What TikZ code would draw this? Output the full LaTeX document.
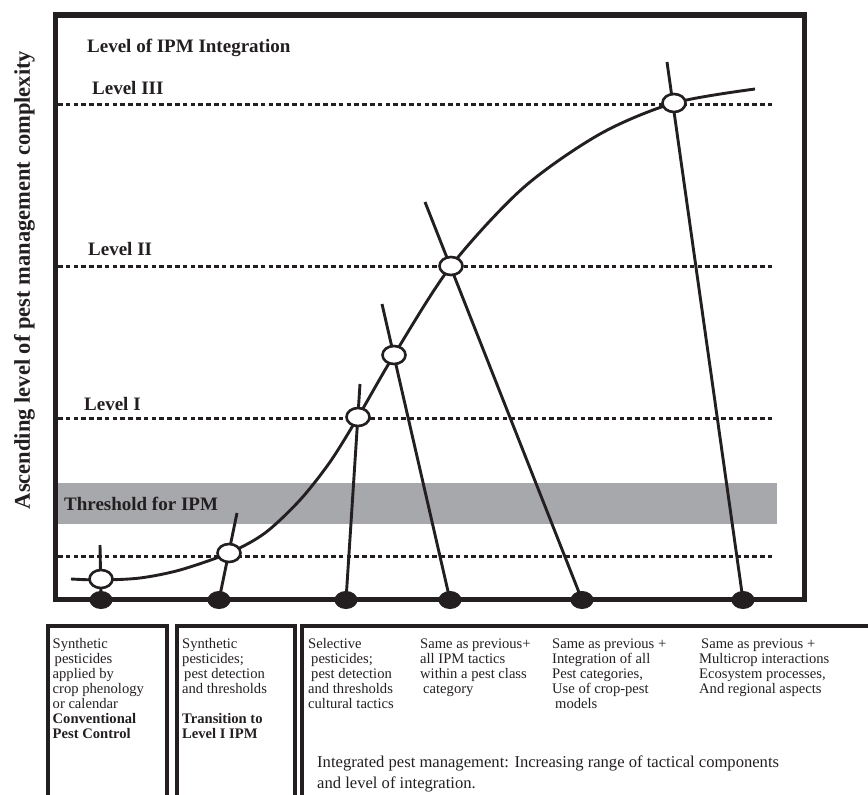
\documentclass[tikz,border=0pt]{standalone}
\usepackage{fontspec}
\setmainfont{Liberation Serif}
\usetikzlibrary{shapes.geometric}
\definecolor{ink}{HTML}{231F20}
\definecolor{band}{HTML}{A7A8AB}
\pgfdeclarelayer{bg}
\pgfsetlayers{bg,main}
\begin{document}
\begin{tikzpicture}[x=1pt,y=-1pt,
  every node/.style={inner sep=0pt, text=ink},
  frame/.style={draw=ink, line width=5.5pt},
  levelline/.style={draw=ink, line width=3pt, dash pattern=on 4.5pt off 3.3pt},
  stem/.style={draw=ink, line width=2.9pt},
  curveline/.style={draw=ink, line width=2.9pt},
  opendot/.style={ellipse, draw=ink, fill=white, line width=2.6pt, minimum width=23pt, minimum height=18pt},
  filldot/.style={ellipse, fill=ink, minimum width=23pt, minimum height=18pt},
  lvl/.style={font=\fontsize{19}{21}\selectfont\bfseries, anchor=base west},
  boxline/.style={draw=ink, line width=4pt},
  cell/.style={font=\fontsize{14.6}{15}\selectfont, anchor=base west},
]
\useasboundingbox (0,0) rectangle (868,795);

% positions
\coordinate (d1) at (101,600); \coordinate (c1p) at (101,579); \coordinate (top1) at (100,545);
\coordinate (d2) at (219,600); \coordinate (c2p) at (229,553); \coordinate (top2) at (237,513);
\coordinate (d3) at (346,600); \coordinate (c3p) at (358,417); \coordinate (top3) at (360,384);
\coordinate (d4) at (450,600); \coordinate (c4p) at (394,355); \coordinate (top4) at (382,304);
\coordinate (d5) at (582,600); \coordinate (c5p) at (451,266); \coordinate (top5) at (425,202);
\coordinate (d6) at (743,600); \coordinate (c6p) at (674,103); \coordinate (top6) at (667,62);

\coordinate (l3a) at (58,104); \coordinate (l3b) at (772,104);
\coordinate (l2a) at (58,266); \coordinate (l2b) at (772,266);
\coordinate (l1a) at (58,418); \coordinate (l1b) at (772,418);
\coordinate (l0a) at (58,556); \coordinate (l0b) at (772,556);

% nodes
\node[filldot] (dot1) at (d1) {};
\node[filldot] (dot2) at (d2) {};
\node[filldot] (dot3) at (d3) {};
\node[filldot] (dot4) at (d4) {};
\node[filldot] (dot5) at (d5) {};
\node[filldot] (dot6) at (d6) {};
\node[opendot] (c1) at (c1p) {};
\node[opendot] (c2) at (c2p) {};
\node[opendot] (c3) at (c3p) {};
\node[opendot] (c4) at (c4p) {};
\node[opendot] (c5) at (c5p) {};
\node[opendot] (c6) at (c6p) {};

\begin{pgfonlayer}{bg}
  \fill[band] (58,483) rectangle (777,524);
  \draw[levelline] (l3a) -- (l3b);
  \draw[levelline] (l2a) -- (l2b);
  \draw[levelline] (l1a) -- (l1b);
  \draw[levelline] (l0a) -- (l0b);
  \draw[frame] (55.5,15) rectangle (804.5,599.5);
  \draw[stem] (dot1.center) -- (top1);
  \draw[stem] (dot2.center) -- (top2);
  \draw[stem] (dot3.center) -- (top3);
  \draw[stem] (dot4.center) -- (top4);
  \draw[stem] (dot5.center) -- (top5);
  \draw[stem] (dot6.center) -- (top6);
  \draw[curveline] plot[smooth, tension=0.5] coordinates {(71,579) (101,580) (140,578) (180,570) (229,553) (265,533) (300,500) (330,462) (358,417) (394,355) (451,266) (523,188) (600,134) (674,103) (755,89)};
\end{pgfonlayer}

% labels
\node[lvl] (title) at (87,52) {Level of IPM Integration};
\node[lvl] (lev3) at (92,94) {Level III};
\node[lvl] (lev2) at (88,255) {Level II};
\node[lvl] (lev1) at (84,410) {Level I};
\node[lvl] (thr) at (64,510) {Threshold for IPM};
\node[rotate=90, anchor=base, font=\fontsize{22.5}{24}\selectfont\bfseries] (ylab) at (30,280) {Ascending level of pest management complexity};

% bottom boxes
\draw[boxline] (47.5,830) -- (47.5,626) -- (167,626) -- (167,830);
\draw[boxline] (177,830) -- (177,626) -- (294.5,626) -- (294.5,830);
\draw[boxline] (301.5,830) -- (301.5,626) -- (875,626);

\node[cell] (t1) at (52.5,648) {\begin{tabular}[t]{@{}l@{}}Synthetic\\\hspace{2pt}pesticides\\applied by\\crop phenology\\or calendar\\\textbf{Conventional}\\\textbf{Pest Control}\end{tabular}};
\node[cell] (t2) at (182,648) {\begin{tabular}[t]{@{}l@{}}Synthetic\\pesticides;\\\hspace{2pt}pest detection\\and thresholds\\[15pt]\textbf{Transition to}\\\textbf{Level I IPM}\end{tabular}};
\node[cell] (t3) at (308,648) {\begin{tabular}[t]{@{}l@{}}Selective\\\hspace{3pt}pesticides;\\\hspace{3pt}pest detection\\and thresholds\\cultural tactics\end{tabular}};
\node[cell] (t4) at (420,648) {\begin{tabular}[t]{@{}l@{}}Same as previous+\\all IPM tactics\\within a pest class\\\hspace{3pt}category\end{tabular}};
\node[cell] (t5) at (552,648) {\begin{tabular}[t]{@{}l@{}}Same as previous +\\Integration of all\\Pest categories,\\Use of crop-pest\\\hspace{3pt}models\end{tabular}};
\node[cell] (t6) at (699,648) {\begin{tabular}[t]{@{}l@{}}\hspace{2pt}Same as previous +\\Multicrop interactions\\Ecosystem processes,\\And regional aspects\end{tabular}};
\node[anchor=base west, font=\fontsize{16.6}{21}\selectfont] (sum) at (317,767) {\begin{tabular}[t]{@{}l@{}}Integrated pest management: Increasing range of tactical components\\and level of integration.\end{tabular}};
\end{tikzpicture}
\end{document}
